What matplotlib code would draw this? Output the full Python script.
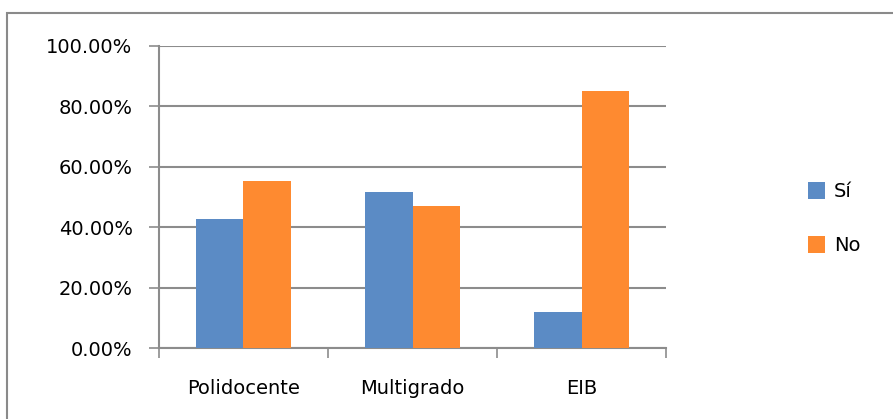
import matplotlib.pyplot as plt
import numpy as np
from matplotlib.patches import Rectangle
from matplotlib.ticker import FuncFormatter

# --------------------------------------------------
# data
# --------------------------------------------------
categories = ["Polidocente", "Multigrado", "EIB"]
si_values = [42.7, 51.7, 12.0]
no_values = [55.4, 47.2, 85.2]
series_labels = ["Sí", "No"]
y_ticks = [0, 20, 40, 60, 80, 100]

BLUE = "#5B8BC5"
ORANGE = "#FE8A30"
GRID = "#8C8C8C"

plt.rcParams.update({
    "font.family": ["DejaVu Sans"],
    "font.size": 14,
})

fig = plt.figure(figsize=(8.93, 4.19), dpi=100)
ax = fig.add_axes([0.178, 0.1687, 0.568, 0.722])

# outer chart border
fig.patches.append(Rectangle((7 / 893, -0.2), 1.2, 0.2 + (419 - 13) / 419,
                             transform=fig.transFigure, fill=False,
                             edgecolor="#8A8A8A", linewidth=1.5, zorder=0))

x = np.arange(len(categories))
width = 0.28
ax.bar(x - width / 2, si_values, width, color=BLUE, label=series_labels[0], zorder=3)
ax.bar(x + width / 2, no_values, width, color=ORANGE, label=series_labels[1], zorder=3)

ax.set_xlim(-0.5, len(categories) - 0.5)
ax.set_ylim(0, 100)
ax.set_yticks(y_ticks)
ax.yaxis.set_major_formatter(FuncFormatter(lambda v, _: f"{v:.2f}%"))
ax.yaxis.grid(True, color=GRID, linewidth=1.5, zorder=0)
ax.tick_params(axis="y", length=7, width=1.2, color=GRID, pad=12, labelsize=14)

# category labels between boundary ticks
ax.set_xticks(np.arange(len(categories) + 1) - 0.5)
ax.set_xticklabels([])
ax.set_xticks(x, minor=True)
ax.set_xticklabels(categories, minor=True)
ax.tick_params(axis="x", which="major", length=7, width=1.2, color=GRID)
ax.tick_params(axis="x", which="minor", length=0, pad=22, labelsize=14)

for side in ["top", "right"]:
    ax.spines[side].set_visible(False)
for side in ["left", "bottom"]:
    ax.spines[side].set_color(GRID)
    ax.spines[side].set_linewidth(1.5)

fig.legend(loc="center left", bbox_to_anchor=(0.885, 0.478), frameon=False,
           handlelength=0.9, handleheight=0.9, handletextpad=0.45,
           labelspacing=1.8, fontsize=14)

fig.savefig("out.png", dpi=100)
